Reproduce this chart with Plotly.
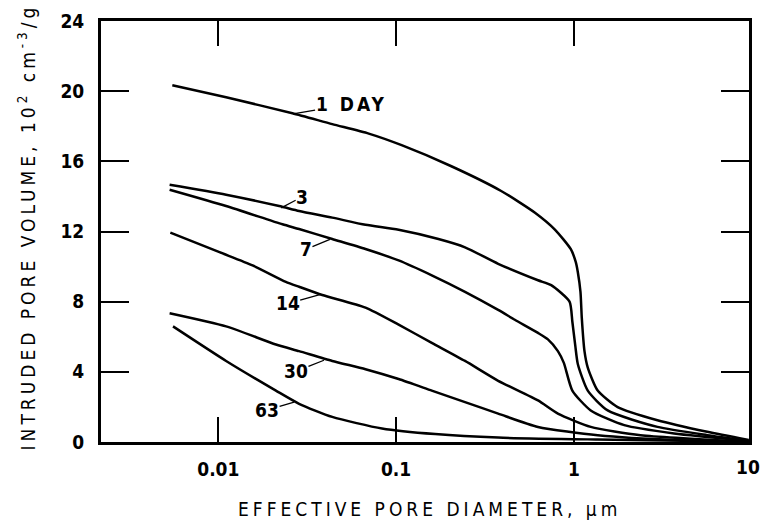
import math
import plotly.graph_objects as go

# Data
x_1day = [0.00551, 0.01106, 0.0261, 0.04373, 0.07017, 0.1074, 0.2046, 0.3898, 0.6042, 0.7819, 0.9612, 1.025, 1.052, 1.089, 1.108, 1.147, 1.197, 1.361, 1.762, 2.951, 5.622, 9.623]
y_1day = [20.34, 19.65, 18.74, 18.12, 17.58, 16.92, 15.72, 14.31, 13.07, 12.11, 10.99, 10.25, 9.69, 8.56, 7.06, 5.18, 4.24, 2.93, 1.99, 1.24, 0.58, 0.11]

x_3day = [0.00532, 0.01106, 0.02199, 0.02846, 0.04373, 0.06726, 0.1033, 0.1730, 0.2441, 0.3750, 0.6281, 0.7455, 0.9452, 0.980, 1.019, 1.052, 1.197, 1.549, 2.951, 5.622, 9.623]
y_3day = [14.66, 14.10, 13.45, 13.17, 12.79, 12.38, 12.10, 11.57, 11.10, 10.16, 9.22, 8.94, 8.00, 6.87, 5.46, 4.45, 2.93, 1.80, 0.86, 0.39, 0.07]

x_7day = [0.00532, 0.01106, 0.02295, 0.02846, 0.04373, 0.06726, 0.1033, 0.1587, 0.2441, 0.3750, 0.4651, 0.6281, 0.7145, 0.8128, 0.878, 0.980, 1.244, 1.921, 3.660, 9.623]
y_7day = [14.38, 13.45, 12.41, 12.14, 11.57, 11.00, 10.35, 9.50, 8.56, 7.53, 6.97, 6.22, 5.85, 5.18, 4.51, 2.93, 1.80, 0.96, 0.49, 0.07]

x_14day = [0.00537, 0.01015, 0.01558, 0.02398, 0.02846, 0.03843, 0.06726, 0.1033, 0.1587, 0.2441, 0.3750, 0.6281, 0.8128, 1.244, 2.370, 9.623]
y_14day = [11.94, 10.82, 10.07, 9.13, 8.85, 8.38, 7.66, 6.69, 5.65, 4.62, 3.49, 2.37, 1.62, 0.86, 0.39, 0.02]

x_30day = [0.00532, 0.01106, 0.02108, 0.02846, 0.04373, 0.06726, 0.1033, 0.1587, 0.2441, 0.3750, 0.6281, 1.361, 3.818, 9.623]
y_30day = [7.34, 6.59, 5.56, 5.18, 4.62, 4.15, 3.59, 2.93, 2.27, 1.62, 0.86, 0.39, 0.11, 0.03]

x_63day = [0.00556, 0.01106, 0.02108, 0.02846, 0.04373, 0.08329, 0.1658, 0.3750, 1.361, 4.942, 9.623]
y_63day = [6.59, 4.62, 2.93, 2.18, 1.43, 0.77, 0.45, 0.25, 0.14, 0.06, 0.02]

# curve labels: (text, x on curve, y on curve, ax, ay)
labels = [
    ('<span style="letter-spacing:3px">1 DAY</span>', 0.02634, 18.70, 58, -10),
    ("3", 0.02256, 13.35, 21, -11),
    ("7", 0.04245, 11.55, -24, 10),
    ("14", 0.03764, 8.41, -33, 9),
    ("30", 0.03928, 4.66, -28, 11),
    ("63", 0.02668, 2.27, -27, 8),
]

x_tickvals = [0.01, 0.1, 1]
x_ticktext = ["0.01", "0.1", "1"]
y_tickvals = [0, 4, 8, 12, 16, 20, 24]
y_ticktext = ["0", "4", "8", "12", "16", "20", "24"]

FONT = "DejaVu Sans Condensed, Liberation Sans Narrow, DejaVu Sans, sans-serif"

fig = go.Figure()
for xs, ys in [(x_1day, y_1day), (x_3day, y_3day), (x_7day, y_7day),
               (x_14day, y_14day), (x_30day, y_30day), (x_63day, y_63day)]:
    fig.add_trace(go.Scatter(x=xs, y=ys, mode="lines",
                             line=dict(color="black", width=2.5, shape="spline", smoothing=0.6),
                             showlegend=False, hoverinfo="skip"))

for text, xv, yv, ax, ay in labels:
    fig.add_annotation(x=math.log10(xv), y=yv, xref="x", yref="y", text=text, showarrow=True,
                       arrowhead=0, arrowwidth=1.3, arrowcolor="black", ax=ax, ay=ay,
                       standoff=0, borderpad=0,
                       font=dict(family=FONT, size=19, color="black", weight="bold"))

# "10" label at the right end of the x axis
fig.add_annotation(x=1, y=0, xref="paper", yref="paper", text="10", showarrow=False,
                   xanchor="center", yanchor="top", xshift=-1, yshift=-12,
                   font=dict(family=FONT, size=19, color="black", weight="bold"))

# axis titles
fig.add_annotation(x=0.507, y=-0.16, xref="paper", yref="paper",
                   text='<span style="letter-spacing:4px">EFFECTIVE PORE DIAMETER, μm</span>',
                   showarrow=False, xanchor="center", yanchor="middle",
                   font=dict(family=FONT, size=19, color="black"))
fig.add_annotation(x=-0.114, y=0.51, xref="paper", yref="paper", textangle=-90,
                   text='<span style="letter-spacing:4px">INTRUDED PORE VOLUME, 10<sup>2</sup> cm<sup>-3</sup>/g</span>',
                   showarrow=False, xanchor="center", yanchor="middle",
                   font=dict(family=FONT, size=19, color="black"))

fig.update_xaxes(type="log", range=[-2.66, 0.985], tickvals=x_tickvals, ticktext=x_ticktext,
                 ticks="inside", ticklen=25, tickwidth=2, tickcolor="black",
                 showline=True, linewidth=3, linecolor="black", mirror="ticks",
                 showgrid=False, zeroline=False, ticklabelstandoff=8,
                 tickfont=dict(family=FONT, size=19, color="black", weight="bold"))
fig.update_yaxes(range=[0, 24], tickvals=y_tickvals, ticktext=y_ticktext,
                 ticks="inside", ticklen=28, tickwidth=2, tickcolor="black",
                 showline=True, linewidth=3, linecolor="black", mirror="ticks",
                 showgrid=False, zeroline=False, ticklabelstandoff=10,
                 tickfont=dict(family=FONT, size=19, color="black", weight="bold"))

fig.update_layout(width=762, height=525, margin=dict(l=101, r=10, t=16, b=83),
                  plot_bgcolor="white", paper_bgcolor="white", showlegend=False)

fig.write_html("out.html")
